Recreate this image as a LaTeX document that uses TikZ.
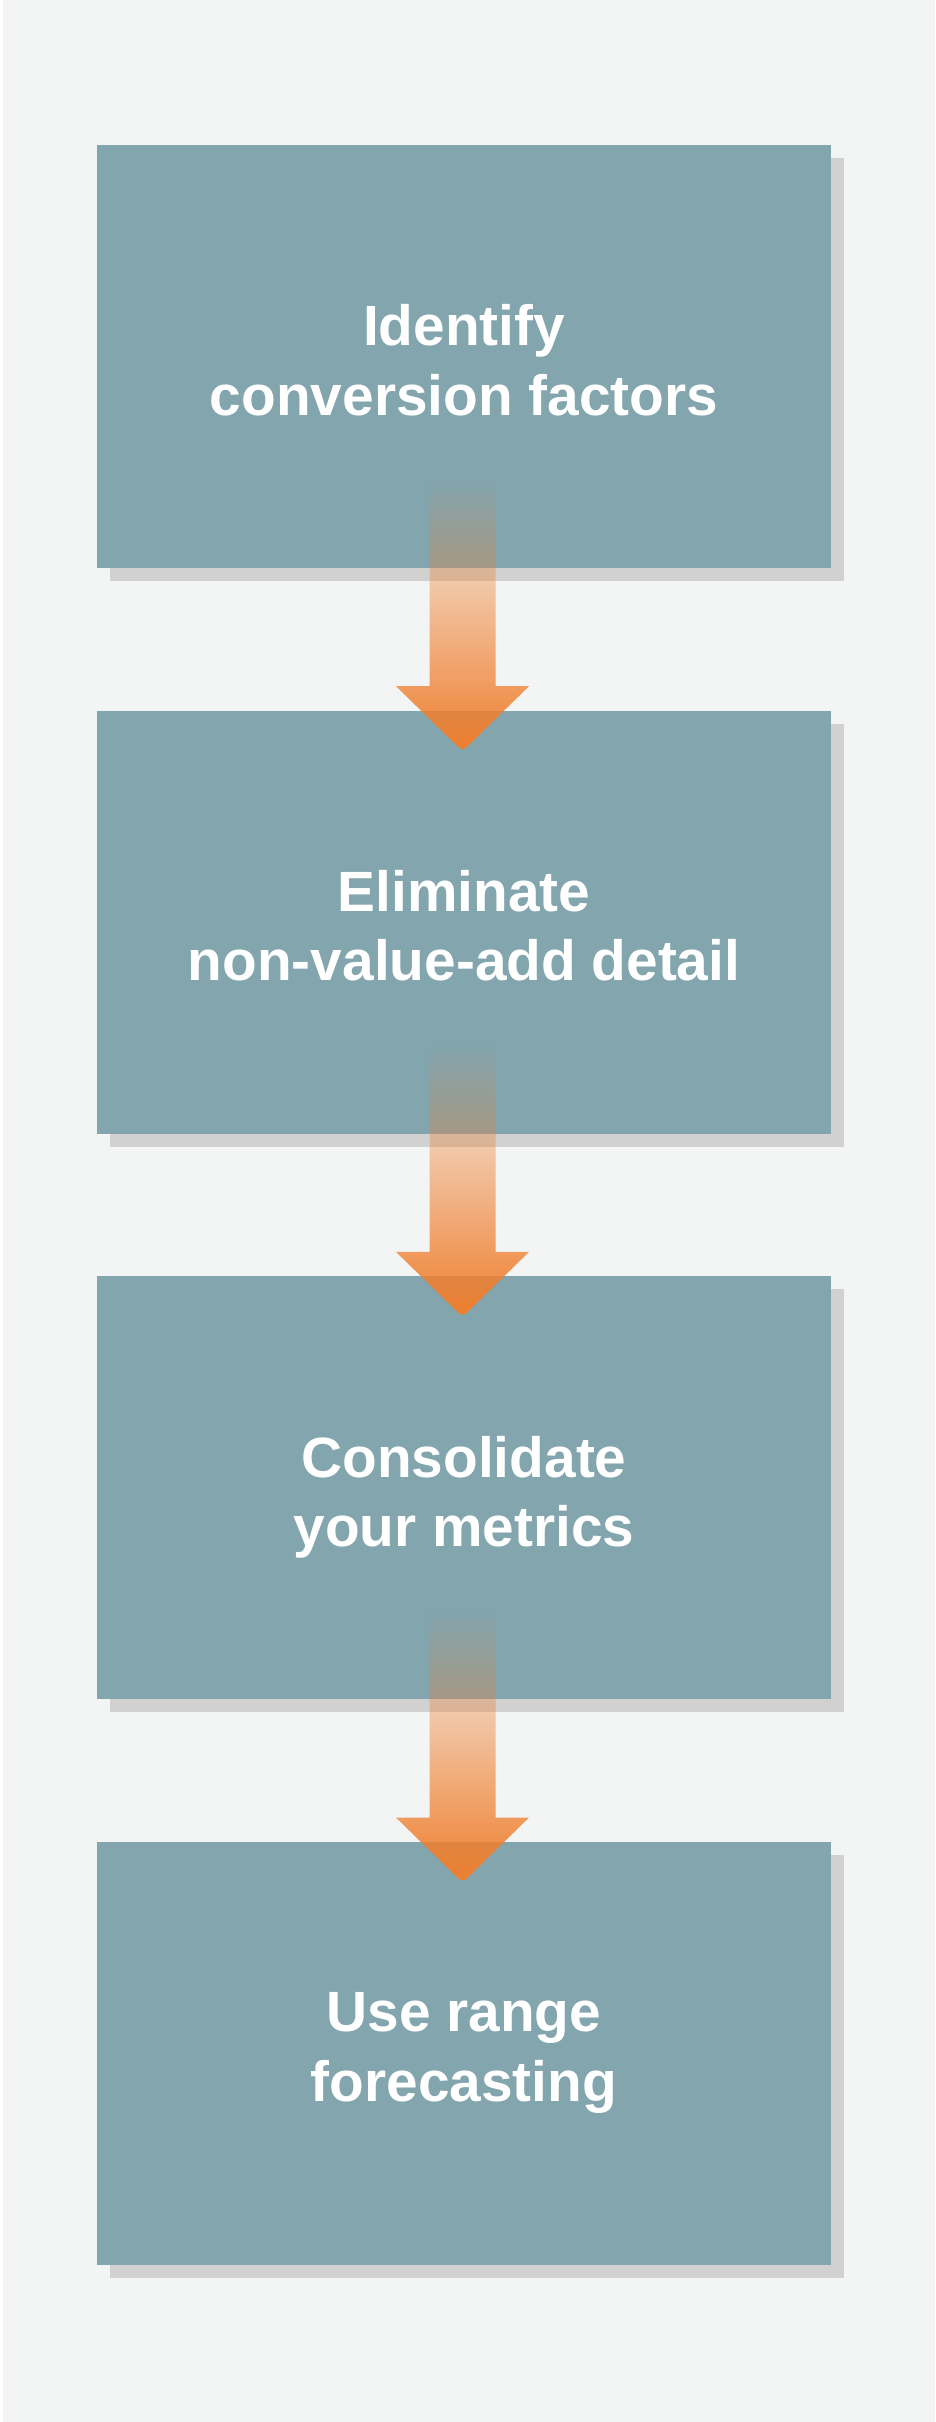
\documentclass[tikz,border=0pt]{standalone}
\usepackage{fontspec}
\setmainfont{Liberation Sans}
\usetikzlibrary{calc,fadings,shadows}
\definecolor{bgc}{HTML}{F3F5F4}
\definecolor{boxc}{HTML}{82A5AE}
\definecolor{shadowc}{HTML}{D0D1D0}
\definecolor{arrowc}{HTML}{F07F2F}
\tikzfading[name=fadedown, top color=transparent!100, bottom color=transparent!0]
\tikzset{
  stepbox/.style={rectangle, fill=boxc, minimum width=734pt, minimum height=423pt, inner sep=0pt,
    general shadow={fill=shadowc, shadow xshift=13pt, shadow yshift=-13pt}},
  steptext/.style={text=white, font=\bfseries\fontsize{56.8}{69.5}\selectfont, align=center, anchor=base, inner sep=0pt},
  flowarrow/.style={fill=arrowc, path fading=fadedown},
}
\newcommand\FlowArrow[2]{%
  \fill[flowarrow]
    ([shift={(-34.5pt,90pt)}]#1.south) -- ([shift={(-34.5pt,-118pt)}]#1.south)
    -- ([shift={(-68pt,-118pt)}]#1.south)
    -- ([shift={(-11.5pt,-31pt)}]#2.north)
    .. controls ([shift={(-1.5pt,-41pt)}]#2.north) .. ([shift={(8.5pt,-31pt)}]#2.north)
    -- ([shift={(65pt,-118pt)}]#1.south) -- ([shift={(31.5pt,-118pt)}]#1.south)
    -- ([shift={(31.5pt,90pt)}]#1.south) -- cycle;}
\begin{document}
\begin{tikzpicture}[x=1pt, y=-1pt]
  \useasboundingbox (0,0) rectangle (935,2422);
  \fill[white] (0,0) rectangle (935,2422);
  \fill[bgc] (2.5,0) rectangle (935,2422);
  \node[stepbox] (b1) at (464,356.5) {};
  \node[stepbox] (b2) at (464,922.17) {};
  \node[stepbox] (b3) at (464,1487.83) {};
  \node[stepbox] (b4) at (464,2053.5) {};
  \node[steptext] (t1) at ([yshift=-270.5pt]b1.north) {Identify\\conversion factors};
  \node[steptext] (t2) at ([yshift=-270.5pt]b2.north) {Eliminate\\non-value-add detail};
  \node[steptext] (t3) at ([yshift=-270.5pt]b3.north) {Consolidate\\your metrics};
  \node[steptext] (t4) at ([yshift=-259.5pt]b4.north) {Use range\\forecasting};
  \FlowArrow{b1}{b2}
  \FlowArrow{b2}{b3}
  \FlowArrow{b3}{b4}
\end{tikzpicture}
\end{document}
